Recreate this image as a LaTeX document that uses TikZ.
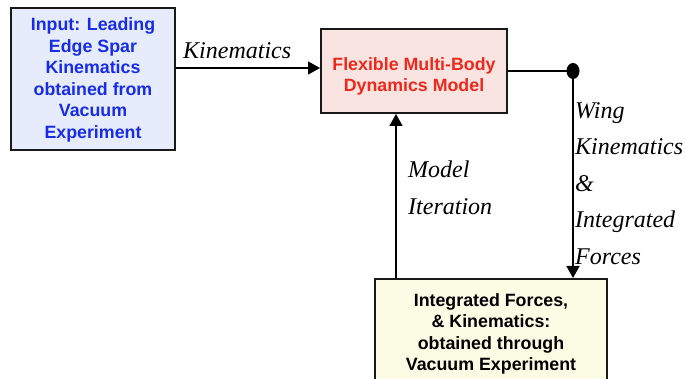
\documentclass[tikz,border=0pt]{standalone}
\usepackage{fontspec}
\setmainfont{Liberation Serif}
\setsansfont{Liberation Sans}
\usetikzlibrary{arrows.meta,shapes.geometric}

\definecolor{inkblue}{RGB}{22,44,232}
\definecolor{inkred}{RGB}{240,40,28}
\definecolor{inbg}{RGB}{230,236,251}
\definecolor{flbg}{RGB}{249,228,226}
\definecolor{botbg}{RGB}{252,251,227}
\definecolor{edge}{RGB}{25,25,25}

\tikzset{
  blockbox/.style={draw=edge, line width=2pt, rectangle, inner sep=0pt},
  blocktext/.style={font=\fontsize{17.8}{21.5}\selectfont\sffamily\bfseries,
    align=center, inner sep=0pt},
  flowlabel/.style={font=\fontsize{24}{36.6}\selectfont\itshape,
    align=left, inner sep=0pt},
  flow/.style={draw=black, line width=1.6pt,
    -{Triangle[width=13pt,length=12pt]}},
  plainflow/.style={draw=black, line width=1.6pt}
}

\begin{document}
\begin{tikzpicture}[x=1pt,y=-1pt]
  \useasboundingbox (0,0) rectangle (686,379);
  \clip (0,0) rectangle (686,379);

  % blocks
  \node[blockbox, fill=inbg, minimum width=164pt, minimum height=142pt]
    (inp) at (93,79) {};
  \node[blockbox, fill=flbg, minimum width=186pt, minimum height=84pt]
    (fl) at (414,71) {};
  \node[blockbox, fill=botbg, minimum width=232pt, minimum height=130pt]
    (bot) at (491,344) {};

  % block texts
  \node[blocktext, text=inkblue] (inptxt) at (93,80)
    {Input: Leading\\Edge Spar\\Kinematics\\obtained from\\Vacuum\\Experiment};
  \node[blocktext, text=inkred] (fltxt) at (414,76.5)
    {Flexible Multi-Body\\Dynamics Model};
  \node[blocktext, text=black] (bottxt) at (491,334)
    {Integrated Forces,\\\& Kinematics:\\obtained through\\Vacuum Experiment};

  % helper coordinates
  \coordinate (kinrow) at (0,68);
  \coordinate (itercol) at (396,0);
  \node[ellipse, fill=black, minimum width=13pt, minimum height=16pt,
    inner sep=0pt] (dot) at (573,71) {};

  % connectors
  \draw[flow] (inp.east |- kinrow) -- (fl.west |- kinrow);
  \draw[plainflow] (fl.east) -- (dot.center);
  \draw[flow] (dot.center) -- (dot.center |- bot.north);
  \draw[flow] (bot.north -| itercol) -- (fl.south -| itercol);

  % connector labels
  \node[flowlabel, anchor=base west] (kinlab) at (183,59) {Kinematics};
  \node[flowlabel, anchor=north west] (iterlab) at (408,161)
    {Model\\Iteration};
  \node[flowlabel, anchor=north west] (winglab) at (575,102)
    {Wing\\Kinematics\\\&\\Integrated\\Forces};
\end{tikzpicture}
\end{document}
